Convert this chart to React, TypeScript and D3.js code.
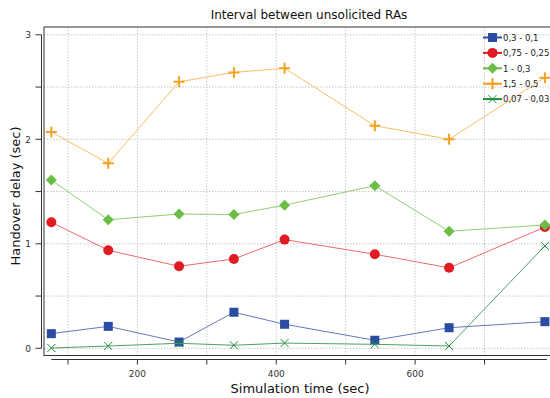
import React from "react";
import * as d3 from "d3";

// simulation time of each sample (sec)
const times = [76, 158, 260, 339, 412, 542, 649, 787];

const names = ["0,3 - 0,1", "0,75 - 0,25", "1 - 0,3", "1,5 - 0,5", "0,07 - 0,03"];

const delay03 = [0.14, 0.21, 0.06, 0.345, 0.23, 0.077, 0.197, 0.255];
const delay075 = [1.206, 0.938, 0.785, 0.855, 1.04, 0.9, 0.77, 1.16];
const delay1 = [1.61, 1.23, 1.285, 1.28, 1.37, 1.556, 1.12, 1.18];
const delay15 = [2.07, 1.77, 2.55, 2.64, 2.68, 2.13, 2.0, 2.59];
const delay007 = [0.003, 0.022, 0.048, 0.029, 0.05, 0.038, 0.022, 0.98];

const xTicks = [100, 200, 300, 400, 500, 600, 700];
const xLabels = [200, 400, 600];
const yTicks = [0, 0.5, 1, 1.5, 2, 2.5, 3];
const yLabels = [0, 1, 2, 3];

const colors = ["#2a4ca2", "#e11b22", "#6bbd45", "#f5a01e", "#1f8a3b"];
const lineColors = ["#6677c0", "#ee6a6a", "#8fce70", "#f7bf60", "#4aa460"];
const shapes = ["square", "circle", "diamond", "plus", "cross"];

const font = "DejaVu Sans, Verdana, sans-serif";

const Marker = ({ shape, x, y, color }: any) => {
  if (shape === "square") return <rect x={x - 4.5} y={y - 4.5} width={9} height={9} fill={color} />;
  if (shape === "circle") return <circle cx={x} cy={y} r={5} fill={color} />;
  if (shape === "diamond")
    return <path d={`M${x},${y - 5.5}L${x + 5.5},${y}L${x},${y + 5.5}L${x - 5.5},${y}Z`} fill={color} />;
  if (shape === "plus")
    return <path d={`M${x - 5.5},${y}H${x + 5.5}M${x},${y - 5.5}V${y + 5.5}`} stroke={color} strokeWidth={2} />;
  return <path d={`M${x - 4},${y - 4}L${x + 4},${y + 4}M${x - 4},${y + 4}L${x + 4},${y - 4}`} stroke={color} strokeWidth={1} />;
};

export default function App() {
  const series = [delay03, delay075, delay1, delay15, delay007];
  const x = d3.scaleLinear().domain([100, 700]).range([68, 484.5]);
  const y = d3.scaleLinear().domain([0, 3]).range([348.3, 34.8]);
  const line = d3
    .line<number>()
    .x((d, i) => x(times[i]))
    .y((d) => y(d));

  const frame = { left: 44, top: 27, right: 549.5, bottom: 355.5 };
  const yAxisX = 41.5;
  const xAxisY = 359.5;

  return (
    <svg width={550} height={398} style={{ position: "absolute", left: 0, top: 0, background: "#fff" }} fontFamily={font}>
      <text x={309} y={19} textAnchor="middle" fontSize={12} fill="#111">
        Interval between unsolicited RAs
      </text>

      {/* grid */}
      {xTicks.map((t) => (
        <line key={"gx" + t} x1={x(t)} x2={x(t)} y1={frame.top} y2={frame.bottom} stroke="#c8c8c8" strokeDasharray="1.5,1.5" />
      ))}
      {yTicks.map((t) => (
        <line key={"gy" + t} x1={frame.left} x2={frame.right} y1={y(t)} y2={y(t)} stroke="#c8c8c8" strokeDasharray="1.5,1.5" />
      ))}

      {/* frame */}
      <rect x={frame.left} y={frame.top} width={frame.right - frame.left + 2} height={frame.bottom - frame.top} fill="none" stroke="#333" strokeWidth={1} />

      {/* y axis */}
      <line x1={yAxisX} x2={yAxisX} y1={y(3)} y2={y(0)} stroke="#333" />
      {yTicks.map((t) => (
        <line key={"ty" + t} x1={yAxisX - 6} x2={yAxisX} y1={y(t)} y2={y(t)} stroke="#333" />
      ))}
      {yLabels.map((t) => (
        <text key={"ly" + t} x={31} y={y(t) + 3.5} textAnchor="end" fontSize={9} fill="#333">
          {t}
        </text>
      ))}
      <text transform="translate(19.5,196) rotate(-90)" textAnchor="middle" fontSize={13} fill="#111">
        Handover delay (sec)
      </text>

      {/* x axis */}
      <line x1={x(times[0])} x2={x(times[times.length - 1]) + 2} y1={xAxisY} y2={xAxisY} stroke="#333" />
      {xTicks.map((t) => (
        <line key={"tx" + t} x1={x(t)} x2={x(t)} y1={xAxisY} y2={xAxisY + 5} stroke="#333" />
      ))}
      {xLabels.map((t) => (
        <text key={"lx" + t} x={x(t)} y={377} textAnchor="middle" fontSize={9} fill="#333">
          {t}
        </text>
      ))}
      <text x={300} y={393} textAnchor="middle" fontSize={13} fill="#111">
        Simulation time (sec)
      </text>

      {/* series */}
      {series.map((s, k) => (
        <g key={"s" + k}>
          <path d={line(s) || ""} fill="none" stroke={lineColors[k]} strokeWidth={1} />
          {s.map((v, i) => (
            <Marker key={i} shape={shapes[k]} x={x(times[i])} y={y(v)} color={colors[k]} />
          ))}
        </g>
      ))}

      {/* legend */}
      {names.map((n, k) => {
        const ly = 37.5 + k * 15.4;
        return (
          <g key={"lg" + k}>
            <line x1={483} x2={502} y1={ly} y2={ly} stroke={colors[k]} strokeWidth={2} />
            <Marker shape={shapes[k]} x={492.5} y={ly} color={colors[k]} />
            <text x={503} y={ly + 3.2} fontSize={8.5} fill="#222">
              {n}
            </text>
          </g>
        );
      })}
    </svg>
  );
}
